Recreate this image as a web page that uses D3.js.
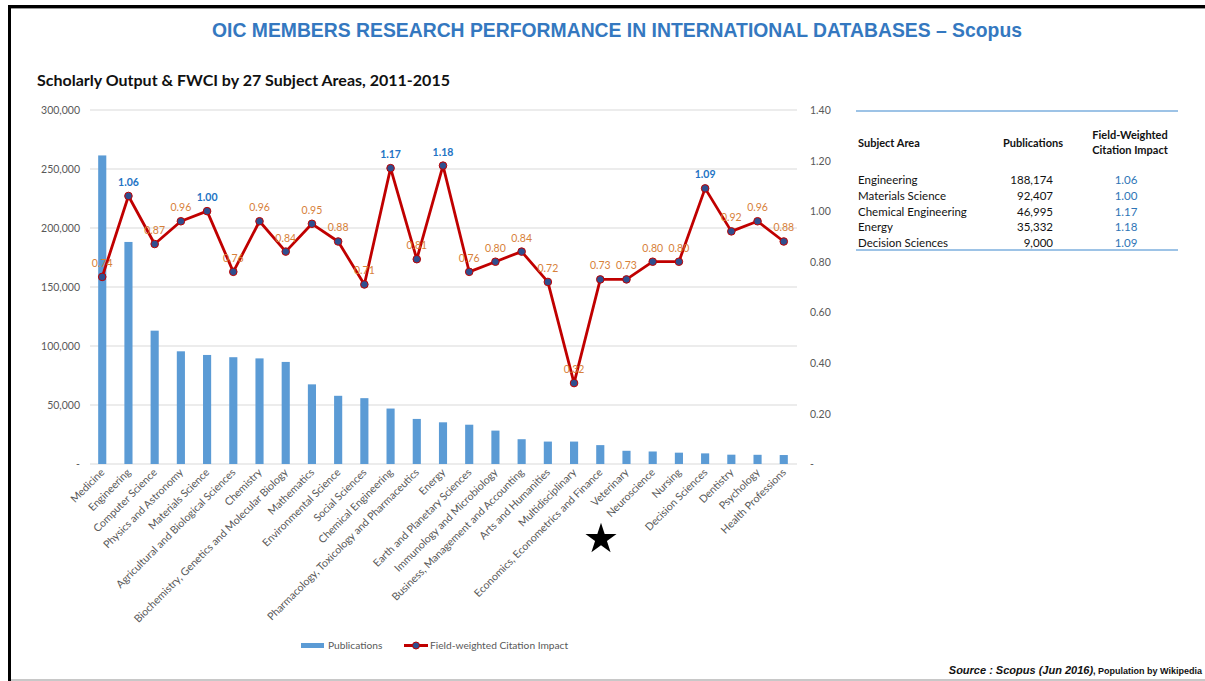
<!DOCTYPE html>
<html><head><meta charset="utf-8">
<script src="https://cdn.jsdelivr.net/npm/d3@7"></script>
<style>body{margin:0;background:#fff}svg{display:block}</style>
</head><body>
<svg id="c" width="1205" height="681"></svg>
<script>
const categories = ["Medicine","Engineering","Computer Science","Physics and Astronomy","Materials Science","Agricultural and Biological Sciences","Chemistry","Biochemistry, Genetics and Molecular Biology","Mathematics","Environmental Science","Social Sciences","Chemical Engineering","Pharmacology, Toxicology and Pharmaceutics","Energy","Earth and Planetary Sciences","Immunology and Microbiology","Business, Management and Accounting","Arts and Humanities","Multidisciplinary","Economics, Econometrics and Finance","Veterinary","Neuroscience","Nursing","Decision Sciences","Dentistry","Psychology","Health Professions"];
const publications = [261500,188174,113000,95500,92407,90500,89500,86500,67500,57800,55800,46995,38200,35332,33300,28300,21000,19000,19000,16000,11200,10600,9600,9000,7900,7800,7600];
const fwci = [0.74,1.06,0.87,0.96,1.00,0.76,0.96,0.84,0.95,0.88,0.71,1.17,0.81,1.18,0.76,0.80,0.84,0.72,0.32,0.73,0.73,0.80,0.80,1.09,0.92,0.96,0.88];
const highlighted = ["Engineering","Materials Science","Chemical Engineering","Energy","Decision Sciences"];
const leftTicks = [0,50000,100000,150000,200000,250000,300000];
const rightTicks = [0,0.2,0.4,0.6,0.8,1.0,1.2,1.4];
const tableHeader = ["Subject Area","Publications","Field-Weighted|Citation Impact"];
const tableAreas = ["Engineering","Materials Science","Chemical Engineering","Energy","Decision Sciences"];
const tablePubs = ["188,174","92,407","46,995","35,332","9,000"];
const tableFwci = ["1.06","1.00","1.17","1.18","1.09"];
const legendLabels = ["Publications","Field-weighted Citation Impact"];

const svg = d3.select("#c");
const F = "Lato, 'Open Sans', sans-serif";
const grey = "#595959";

// frame
svg.append("rect").attr("x",8).attr("y",5).attr("width",1197).attr("height",3).attr("fill","#000");
svg.append("rect").attr("x",8).attr("y",5).attr("width",3).attr("height",676).attr("fill","#000");
svg.append("rect").attr("x",11).attr("y",8).attr("width",1194).attr("height",1).attr("fill","#999");
svg.append("rect").attr("x",11).attr("y",679).attr("width",1194).attr("height",2).attr("fill","#c8c8c8");

// titles
svg.append("text").attr("x",617).attr("y",37).attr("text-anchor","middle")
  .attr("font-family","'Liberation Sans Narrow', 'Liberation Sans', sans-serif").attr("font-weight","bold")
  .attr("font-size",21).attr("fill","#3478c0").attr("textLength",810).attr("lengthAdjust","spacingAndGlyphs")
  .text("OIC MEMBERS RESEARCH PERFORMANCE IN INTERNATIONAL DATABASES \u2013 Scopus");
svg.append("text").attr("x",37).attr("y",86)
  .attr("font-family",F).attr("font-weight","bold").attr("font-size",15).attr("fill","#111")
  .attr("textLength",413).attr("lengthAdjust","spacingAndGlyphs")
  .text("Scholarly Output  & FWCI by 27 Subject Areas, 2011-2015");

const x = d3.scaleBand().domain(categories).range([89,797]).paddingInner(0.69).paddingOuter(0.35);
const yL = d3.scaleLinear().domain([0,300000]).range([464,110]);
const yR = d3.scaleLinear().domain([0,1.4]).range([464,110]);
const cx = d => x(d) + x.bandwidth()/2;

// grid
svg.append("g").selectAll("line").data(leftTicks).join("line")
  .attr("x1",90).attr("x2",797).attr("y1",d=>yL(d)).attr("y2",d=>yL(d))
  .attr("stroke","#d9d9d9").attr("stroke-width",1);

// left axis
const fmtL = d => d===0 ? "-" : d3.format(",")(d);
const axL = svg.append("g").attr("transform","translate(80,0)")
  .call(d3.axisLeft(yL).tickValues(leftTicks).tickFormat(fmtL).tickSize(0).tickPadding(0));
axL.select(".domain").remove();
axL.selectAll("text").attr("font-family",F).attr("font-size",10.5).attr("fill",grey).attr("dy","0.35em");
const fmtR = d => d===0 ? "-" : d3.format(".2f")(d);
const axR = svg.append("g").attr("transform","translate(810,0)")
  .call(d3.axisRight(yR).tickValues(rightTicks).tickFormat(fmtR).tickSize(0).tickPadding(0));
axR.select(".domain").remove();
axR.selectAll("text").attr("font-family",F).attr("font-size",10.5).attr("fill",grey).attr("dy","0.35em");

// bars
svg.append("g").selectAll("rect").data(categories).join("rect")
  .attr("x",d=>x(d)).attr("width",x.bandwidth())
  .attr("y",(d,i)=>yL(publications[i])).attr("height",(d,i)=>yL(0)-yL(publications[i]))
  .attr("fill","#5b9bd5");

// x labels
svg.append("g").selectAll("text").data(categories).join("text")
  .attr("transform",d=>`translate(${cx(d)+3},${473}) rotate(-45)`)
  .attr("text-anchor","end").attr("font-family",F).attr("font-size",10.6).attr("fill",grey)
  .text(d=>d);

// line
const line = d3.line().x((d,i)=>cx(categories[i])).y(d=>yR(d));
svg.append("path").datum(fwci).attr("d",line).attr("fill","none")
  .attr("stroke","#c00000").attr("stroke-width",2.8).attr("stroke-linejoin","round");
svg.append("g").selectAll("circle").data(fwci).join("circle")
  .attr("cx",(d,i)=>cx(categories[i])).attr("cy",d=>yR(d)).attr("r",3.8)
  .attr("fill","#2f4f8f").attr("stroke","#c00000").attr("stroke-width",1);
svg.append("g").selectAll("text").data(fwci).join("text")
  .attr("x",(d,i)=>cx(categories[i])).attr("y",d=>yR(d)-10)
  .attr("text-anchor","middle").attr("font-family",F).attr("font-size",10.5)
  .attr("font-weight",(d,i)=>highlighted.includes(categories[i])?"bold":"normal")
  .attr("fill",(d,i)=>highlighted.includes(categories[i])?"#2273c4":"#d7813a")
  .text(d=>d3.format(".2f")(d));

// star
svg.append("path").attr("d",d3.symbol(d3.symbolStar,300)())
  .attr("transform","translate(601,539)").attr("fill","#000");

// legend
const lg = svg.append("g");
lg.append("rect").attr("x",301).attr("y",643).attr("width",23).attr("height",5).attr("fill","#5b9bd5");
lg.append("text").attr("x",328).attr("y",649).attr("font-family",F).attr("font-size",10.2).attr("fill",grey).text(legendLabels[0]);
lg.append("line").attr("x1",404).attr("x2",428).attr("y1",645.5).attr("y2",645.5).attr("stroke","#c00000").attr("stroke-width",3);
lg.append("circle").attr("cx",416).attr("cy",645.5).attr("r",3.5).attr("fill","#2f4f8f").attr("stroke","#c00000");
lg.append("text").attr("x",430).attr("y",649).attr("font-family",F).attr("font-size",10.2).attr("fill",grey).text(legendLabels[1]);

// source
const src = svg.append("text").attr("x",1202).attr("y",674).attr("text-anchor","end")
  .attr("font-family","'Liberation Sans Narrow', sans-serif").attr("font-weight","bold").attr("fill","#111");
src.append("tspan").attr("font-style","italic").attr("font-size",11).text("Source : Scopus (Jun 2016)");
src.append("tspan").attr("font-size",9).text(", Population by Wikipedia");

// table
const t = svg.append("g").attr("font-family",F).attr("font-size",11.5);
t.append("line").attr("x1",856).attr("x2",1178).attr("y1",111).attr("y2",111).attr("stroke","#9dc3e6").attr("stroke-width",2);
t.append("line").attr("x1",856).attr("x2",1178).attr("y1",250).attr("y2",250).attr("stroke","#9dc3e6").attr("stroke-width",2);
t.append("text").attr("x",858).attr("y",147).attr("font-weight","bold").attr("font-size",11).attr("fill","#111").text(tableHeader[0]);
t.append("text").attr("x",1033).attr("y",147).attr("text-anchor","middle").attr("font-weight","bold").attr("font-size",11).attr("fill","#111").text(tableHeader[1]);
tableHeader[2].split("|").forEach((s,i)=>{
  t.append("text").attr("x",1130).attr("y",139+i*15).attr("text-anchor","middle").attr("font-weight","bold").attr("font-size",11).attr("fill","#111").text(s);
});
const rowY = d3.scalePoint().domain(tableAreas).range([184,247]);
t.selectAll("text.a").data(tableAreas).join("text").attr("class","a")
  .attr("x",858).attr("y",d=>rowY(d)).attr("fill","#111").text(d=>d);
t.selectAll("text.p").data(tablePubs).join("text").attr("class","p")
  .attr("x",1053).attr("y",(d,i)=>rowY(tableAreas[i])).attr("text-anchor","end").attr("fill","#111").text(d=>d);
t.selectAll("text.f").data(tableFwci).join("text").attr("class","f")
  .attr("x",1126).attr("y",(d,i)=>rowY(tableAreas[i])).attr("text-anchor","middle").attr("fill","#2e75b6").text(d=>d);
</script>
</body></html>
